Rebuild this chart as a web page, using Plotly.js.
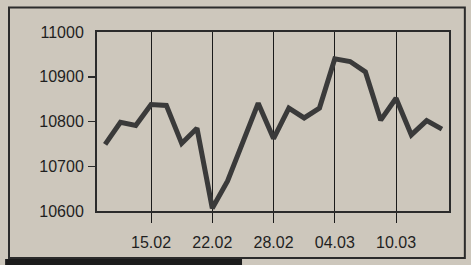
<!DOCTYPE html>
<html>
<head>
<meta charset="utf-8">
<script src="https://cdn.plot.ly/plotly-3.0.1.min.js"></script>
<style>html,body{margin:0;padding:0;background:#cdc7bc;}#chart{width:471px;height:265px;}</style>
</head>
<body>
<div id="chart"></div>
<script>
// Trading-day index of each observation
const dayIndex = [0,1,2,3,4,5,6,7,8,9,10,11,12,13,14,15,16,17,18,19,20,21,22];
// Index values
const indexValues = [10749,10798,10791,10838,10836,10751,10785,10606,10667,10755,10841,10762,10830,10808,10830,10940,10934,10911,10803,10852,10770,10802,10783];
// Date labels and their positions on the day axis
const dateTickPos = [3,7,11,15,19];
const dateTickLabels = ['15.02','22.02','28.02','04.03','10.03'];
// Value axis
const valueTicks = [10600,10700,10800,10900,11000];
const valueTickMarks = [10700,10800,10900];

const ink = '#2b2b2b';
const bg = '#cdc7bc';
const font = {family:'"Liberation Sans", Arial, Helvetica, sans-serif', size:16, color:'#1f1f1f'};

const traces = [
  {x: dayIndex, y: indexValues, type:'scatter', mode:'lines',
   line:{color:'#3a3a3a', width:5}, hoverinfo:'skip', showlegend:false},
  {x: dayIndex, y: indexValues, type:'scatter', mode:'lines', yaxis:'y2',
   line:{color:'rgba(0,0,0,0)', width:0}, hoverinfo:'skip', showlegend:false}
];

const layout = {
  width:471, height:265,
  margin:{l:97, r:22, t:32, b:54},
  paper_bgcolor:bg, plot_bgcolor:bg,
  font: font,
  showlegend:false,
  xaxis:{range:[-0.53,22.46], tickvals:dateTickPos, ticktext:dateTickLabels,
         showgrid:true, gridcolor:'#1a1a1a', gridwidth:1, zeroline:false,
         showline:true, linecolor:ink, linewidth:2, mirror:true,
         ticks:'outside', ticklen:10, tickwidth:1, tickcolor:'#1a1a1a',
         ticklabelstandoff:6, tickfont:font, fixedrange:true},
  yaxis:{range:[10600,11000], tickvals:valueTicks, ticktext:valueTicks.map(String),
         showgrid:false, zeroline:false,
         showline:true, linecolor:ink, linewidth:2, mirror:true,
         ticks:'outside', ticklen:8, tickcolor:'rgba(0,0,0,0)',
         tickfont:font, fixedrange:true},
  yaxis2:{range:[10600,11000], overlaying:'y', side:'left', tickvals:valueTickMarks,
          showticklabels:false, showgrid:false, zeroline:false, showline:false,
          ticks:'outside', ticklen:8, tickwidth:1.5, tickcolor:ink, fixedrange:true},
  shapes:[
    {type:'rect', xref:'paper', yref:'paper', x0:-0.250, x1:1.045, y0:-0.263, y1:1.137,
     line:{color:ink, width:2}, fillcolor:'rgba(0,0,0,0)', layer:'below'},
    {type:'rect', xref:'paper', yref:'paper', x0:-0.261, x1:0.412, y0:-0.31, y1:-0.268,
     line:{width:0}, fillcolor:'#1c1c1c', layer:'above'}
  ]
};

Plotly.newPlot('chart', traces, layout, {displayModeBar:false, staticPlot:true});
</script>
</body>
</html>
